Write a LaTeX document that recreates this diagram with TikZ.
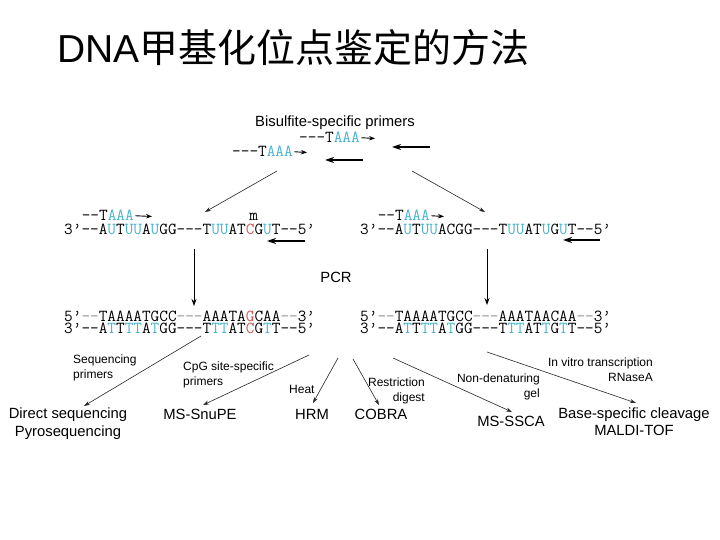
\documentclass[tikz,border=0pt]{standalone}
\usepackage{fontspec}
\setmainfont{Liberation Sans}
\newfontfamily\cjk{Noto Sans CJK SC}
\usetikzlibrary{arrows.meta}
\definecolor{dnacyan}{RGB}{70,180,205}
\definecolor{dnared}{RGB}{205,85,85}
\definecolor{dnagray}{RGB}{150,150,150}
\newcommand{\cy}[1]{\textcolor{dnacyan}{#1}}
\newcommand{\rd}[1]{\textcolor{dnared}{#1}}
\newcommand{\gy}[1]{\textcolor{dnagray}{#1}}
\begin{document}
\begin{tikzpicture}[x=1pt,y=-1pt,
  seq/.style={font=\ttfamily\fontsize{16.8}{16.8}\selectfont, inner sep=0pt, anchor=base west},
  lab/.style={font=\fontsize{14.8}{18}\selectfont, inner sep=0pt, align=center},
  smalllab/.style={font=\fontsize{12}{15}\selectfont, inner sep=0pt},
  thinarr/.style={draw=black!85, line width=0.6pt, -{Stealth[length=6pt,width=4pt]}},
  primarr/.style={draw=black, line width=0.9pt, -{Stealth[length=6pt,width=4.5pt]}},
  bigarr/.style={draw=black, line width=1.2pt, -{Stealth[length=9pt,width=6pt]}},
  vertarr/.style={draw=black, line width=0.8pt, -{Stealth[length=7pt,width=5pt]}}]
\fill[white] (0,0) rectangle (720,540);
\useasboundingbox (0,0) rectangle (720,540);

% title
\node[inner sep=0pt, anchor=base west, font=\fontsize{39}{39}\selectfont] (title) at (57,63) {DNA{\cjk 甲基化位点鉴定的方法}};

% top primers
\node[lab, anchor=base] (bis) at (335,127) {Bisulfite-specific primers};
\node[seq] (pA) at (299,143) {---T\cy{AAA}};
\coordinate (pAe) at (375,138.5);
\draw[primarr] ([xshift=1.5pt]pA.east) -- (pAe);
\coordinate (rAs) at (430,147); \coordinate (rAe) at (392,147);
\draw[bigarr] (rAs) -- (rAe);
\node[seq] (pB) at (232,157) {---T\cy{AAA}};
\coordinate (pBe) at (307,152.5);
\draw[primarr] ([xshift=1.5pt]pB.east) -- (pBe);
\coordinate (rBs) at (363,160); \coordinate (rBe) at (325,160);
\draw[bigarr] (rBs) -- (rBe);

% diagonals
\coordinate (dLs) at (277,171); \coordinate (dLe) at (205,212);
\coordinate (dRs) at (412,171); \coordinate (dRe) at (485,212);
\draw[thinarr] (dLs) -- (dLe);
\draw[thinarr] (dRs) -- (dRe);

% left bisulfite strand
\node[seq] (Lp) at (81.6,221) {--T\cy{AAA}};
\coordinate (Lpe) at (152,216.5);
\draw[primarr] ([xshift=1.5pt]Lp.east) -- (Lpe);
\node[seq, anchor=base] (mL) at (253.6,221) {m};
\node[seq] (L) at (64,235) {3’--A\cy{U}T\cy{UU}A\cy{U}GG---T\cy{UU}AT\rd{C}G\cy{U}T--5’};
\coordinate (Las) at (305,241); \coordinate (Lae) at (267,241);
\draw[bigarr] (Las) -- (Lae);

% right bisulfite strand
\node[seq] (Rp) at (377.6,221) {--T\cy{AAA}};
\coordinate (Rpe) at (444,216.5);
\draw[primarr] ([xshift=1.5pt]Rp.east) -- (Rpe);
\node[seq] (R) at (360,235) {3’--A\cy{U}T\cy{UU}ACGG---T\cy{UU}AT\cy{U}G\cy{U}T--5’};
\coordinate (Ras) at (600,240); \coordinate (Rae) at (563,240);
\draw[bigarr] (Ras) -- (Rae);

% PCR arrows
\coordinate (vLs) at (194,249); \coordinate (vLe) at (194,306);
\coordinate (vRs) at (487,249); \coordinate (vRe) at (487,305);
\draw[vertarr] (vLs) -- (vLe);
\draw[vertarr] (vRs) -- (vRe);
\node[lab] (pcr) at (336,277) {PCR};

% PCR products
\node[seq] (L1) at (64,321) {5’\gy{--}TAAAATGCC\gy{---}AAATA\rd{G}CAA\gy{--}3’};
\node[seq] (L2) at (64,333) {3’--A\cy{T}T\cy{TT}A\cy{T}GG---T\cy{TT}AT\rd{C}G\cy{T}T--5’};
\node[seq] (R1) at (360,321) {5’\gy{--}TAAAATGCC\gy{---}AAATAACAA\gy{--}3’};
\node[seq] (R2) at (360,333) {3’--A\cy{T}T\cy{TT}A\cy{T}GG---T\cy{TT}AT\cy{T}G\cy{T}T--5’};

% method labels
\node[smalllab, align=left, anchor=west] (seqp) at (73,368) {Sequencing\\primers};
\node[smalllab, align=left, anchor=west] (cpgp) at (183,375) {CpG site-specific\\primers};
\node[smalllab, anchor=west] (heat) at (289,389) {Heat};
\node[smalllab, align=right, anchor=east] (restr) at (425,391) {Restriction\\digest};
\node[smalllab, align=right, anchor=east] (nonden) at (540,387) {Non-denaturing\\gel};
\node[smalllab, align=right, anchor=east] (invitro) at (653,370) {In vitro transcription\\RNaseA};

\node[lab, anchor=north] (direct) at (68,408) {Direct sequencing\\Pyrosequencing};
\node[lab, anchor=base] (snupe) at (200,419) {MS-SnuPE};
\node[lab, anchor=base] (hrm) at (312,419) {HRM};
\node[lab, anchor=base] (cobra) at (381,419) {COBRA};
\node[lab, anchor=base] (ssca) at (511,426) {MS-SSCA};
\node[lab, anchor=north, font=\fontsize{14.8}{17}\selectfont] (maldi) at (634,408) {Base-specific cleavage\\MALDI-TOF};

% method arrows
\coordinate (a1s) at (201,336); \coordinate (a1e) at (84,406);
\coordinate (a2s) at (309,355); \coordinate (a2e) at (203,405);
\coordinate (a3s) at (338,358); \coordinate (a3e) at (313,403);
\coordinate (a4s) at (353,359); \coordinate (a4e) at (379,405);
\coordinate (a5s) at (393,358); \coordinate (a5e) at (512,412);
\coordinate (a6s) at (487,352); \coordinate (a6e) at (636,403);
\draw[thinarr] (a1s) -- (a1e);
\draw[thinarr] (a2s) -- (a2e);
\draw[thinarr] (a3s) -- (a3e);
\draw[thinarr] (a4s) -- (a4e);
\draw[thinarr] (a5s) -- (a5e);
\draw[thinarr] (a6s) -- (a6e);
\end{tikzpicture}
\end{document}
